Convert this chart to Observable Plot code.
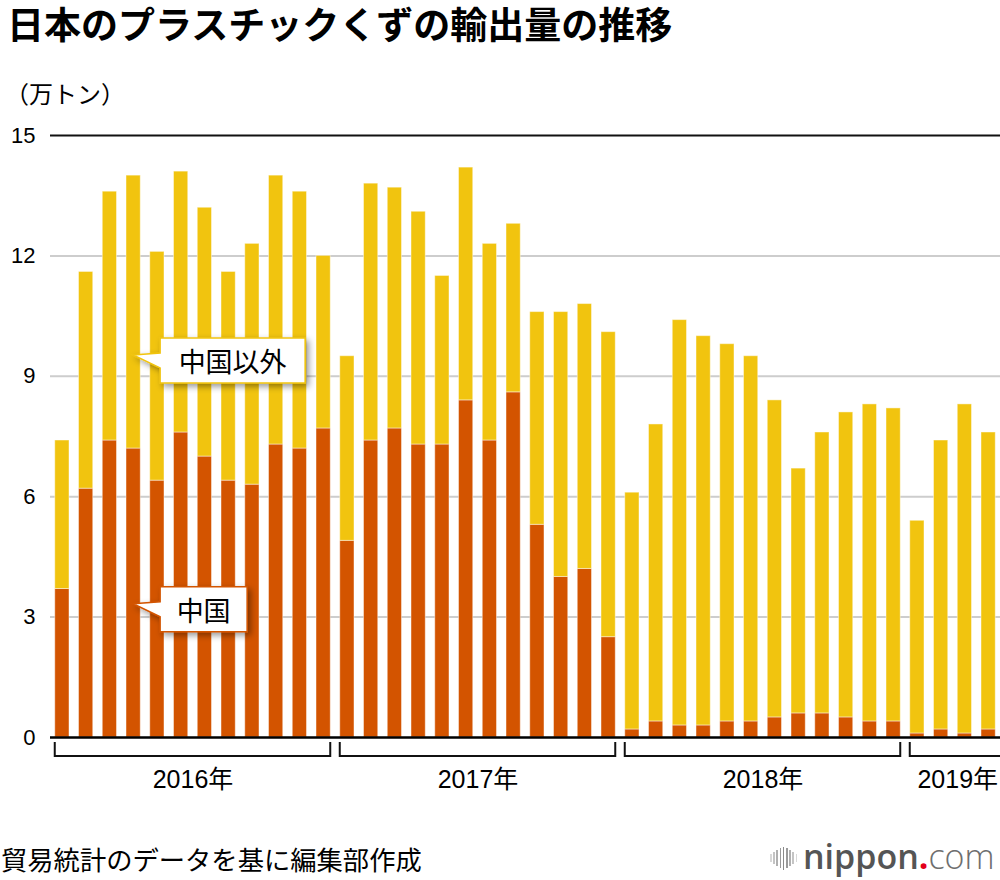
<!DOCTYPE html>
<html>
<head>
<meta charset="utf-8">
<script src="https://cdn.jsdelivr.net/npm/d3@7"></script>
<script src="https://cdn.jsdelivr.net/npm/@observablehq/plot@0.6"></script>
<style>
  body { margin: 0; background: #fff; }
  #wrap { position: relative; width: 1000px; height: 880px; overflow: hidden; background: #fff; }
  .jp { font-family: "Noto Sans CJK JP", "Noto Sans CJK SC", sans-serif; color: #000; white-space: nowrap; }
  #title { position: absolute; left: 7px; top: 3px; font-size: 37px; line-height: 40px; font-weight: 700; }
  #unit { position: absolute; left: 5px; top: 80px; font-size: 24px; line-height: 26px; }
  #chart { position: absolute; left: 0; top: 110px; }
  #caption { position: absolute; left: 1px; top: 845px; font-size: 26.3px; line-height: 28px; }
  #logoicon { position: absolute; left: 770px; top: 846px; height: 24px; display: flex; align-items: center; gap: 1.6px; }
  #logoicon span { display: block; width: 1.6px; }
  #logo { position: absolute; left: 803px; top: 836px; font-family: "Open Sans", "Noto Sans", sans-serif; font-size: 34px; line-height: 40px; white-space: nowrap; }
  #logo .n { color: #555; font-weight: 600; }
  #logo .d { color: #e3001b; font-weight: 700; }
  #logo .c { color: #6e6e6e; font-weight: 300; }
</style>
</head>
<body>
<div id="wrap">
  <div id="title" class="jp">日本のプラスチックくずの輸出量の推移</div>
  <div id="unit" class="jp">（万トン）</div>
  <div id="chart"></div>
  <div id="caption" class="jp">貿易統計のデータを基に編集部作成</div>
  <div id="logoicon"></div>
  <div id="logo"><span class="n">nippon</span><span class="d">.</span><span class="c">com</span></div>
</div>
<script>
// ---- data (万トン) ----
const years = ["2016", "2017", "2018", "2019"];
const monthsPerYear = [12, 12, 12, 4];
const china = [
  3.7, 6.2, 7.4, 7.2, 6.4, 7.6, 7.0, 6.4, 6.3, 7.3, 7.2, 7.7,
  4.9, 7.4, 7.7, 7.3, 7.3, 8.4, 7.4, 8.6, 5.3, 4.0, 4.2, 2.5,
  0.2, 0.4, 0.3, 0.3, 0.4, 0.4, 0.5, 0.6, 0.6, 0.5, 0.4, 0.4,
  0.1, 0.2, 0.1, 0.2
];
const others = [
  3.7, 5.4, 6.2, 6.8, 5.7, 6.5, 6.2, 5.2, 6.0, 6.7, 6.4, 4.3,
  4.6, 6.4, 6.0, 5.8, 4.2, 5.8, 4.9, 4.2, 5.3, 6.6, 6.6, 7.6,
  5.9, 7.4, 10.1, 9.7, 9.4, 9.1, 7.9, 6.1, 7.0, 7.6, 7.9, 7.8,
  5.3, 7.2, 8.2, 7.4
];
const yTicks = [0, 3, 6, 9, 12, 15];
const seriesNames = ["中国", "中国以外"];
const yearSuffix = "年";

// ---- derived tables ----
const rows = china.map((c, i) => ({ i, china: c, others: others[i], total: c + others[i] }));
let acc = 0;
const yearGroups = years.map((y, k) => {
  const g = { label: y + yearSuffix, start: acc, end: acc + monthsPerYear[k] - 1, last: k === years.length - 1 };
  acc += monthsPerYear[k];
  return g;
});

const ORANGE = "#D35400";
const YELLOW = "#F1C40F";
const HALF = 0.3; // half bar width in month units

// bracket mark under each year
const bracketMark = (index, scales, values, dims) => {
  const { x, y } = scales;
  const g = d3.create("svg:g").attr("fill", "none").attr("stroke", "#111").attr("stroke-width", 2);
  const y0 = y(0);
  const top = y0 + 5, bot = y0 + 19;
  for (const yg of yearGroups) {
    const a = x(yg.start - HALF);
    const b = yg.last ? dims.width + 5 : x(yg.end + HALF);
    const p = d3.path();
    p.moveTo(a, top); p.lineTo(a, bot); p.lineTo(b, bot);
    if (!yg.last) p.lineTo(b, top);
    g.append("path").attr("d", p.toString());
  }
  return g.node();
};

// callout label mark
const callout = (mi, val, label, color, boxW) => (index, scales) => {
  const { x, y } = scales;
  const tx = x(mi), ty = y(val);
  const g = d3.create("svg:g");
  const fid = "sh" + Math.round(tx) + "_" + Math.round(ty);
  const f = g.append("defs").append("filter").attr("id", fid)
    .attr("x", "-20%").attr("y", "-30%").attr("width", "150%").attr("height", "180%");
  f.append("feDropShadow").attr("dx", 3).attr("dy", 3).attr("stdDeviation", 3)
    .attr("flood-color", "#000").attr("flood-opacity", 0.4);
  const L = tx + 27, R = L + boxW, T = ty - 17, B = ty + 28;
  const d = `M${tx},${ty} L${L},${ty - 2} L${L},${T} L${R},${T} L${R},${B} L${L},${B} L${L},${ty + 13} Z`;
  g.append("path").attr("d", d).attr("fill", "#fff").attr("stroke", color)
    .attr("stroke-width", 1.5).attr("stroke-linejoin", "miter").attr("filter", `url(#${fid})`);
  g.append("text").attr("x", (L + R) / 2).attr("y", (T + B) / 2)
    .attr("text-anchor", "middle").attr("dominant-baseline", "central")
    .attr("font-family", '"Noto Sans CJK JP", sans-serif').attr("font-size", 27)
    .attr("fill", "#000").text(label);
  return g.node();
};

const chart = Plot.plot({
  width: 1000,
  height: 690,
  marginTop: 25,
  marginBottom: 63,
  marginLeft: 50,
  marginRight: 0,
  style: { fontFamily: '"Liberation Sans", Arial, "Noto Sans CJK JP", sans-serif', fontSize: "22px", color: "#000", background: "transparent", overflow: "visible" },
  x: { domain: [-0.5, china.length - 0.5], axis: null },
  y: { domain: [0, 15], ticks: yTicks, tickSize: 0, tickPadding: 15, label: null, tickFormat: d => String(d) },
  marks: [
    Plot.ruleY(yTicks.filter(t => t > 0 && t < 15), { stroke: "#cdcdcd", strokeWidth: 2 }),
    Plot.ruleY([15], { stroke: "#111", strokeWidth: 2 }),
    Plot.rect(rows, { x1: d => d.i - HALF, x2: d => d.i + HALF, y1: 0, y2: "china", fill: ORANGE, stroke: "#fff", strokeOpacity: 0.45, strokeWidth: 1 }),
    Plot.rect(rows, { x1: d => d.i - HALF, x2: d => d.i + HALF, y1: "china", y2: "total", fill: YELLOW, stroke: "#fff", strokeOpacity: 0.45, strokeWidth: 1 }),
    Plot.ruleY([0], { stroke: "#000", strokeWidth: 2.5 }),
    bracketMark,
    Plot.text(yearGroups, {
      x: d => (d.start - HALF + (d.last ? china.length - 0.5 + 0.2 : d.end + HALF)) / 2,
      y: 0, dy: 42, text: "label", fontSize: 25, fill: "#000",
      fontFamily: '"Liberation Sans", Arial, "Noto Sans CJK JP", sans-serif'
    }),
    callout(3, 9.52, seriesNames[1], YELLOW, 145),
    callout(3, 3.32, seriesNames[0], ORANGE, 87)
  ]
});
document.getElementById("chart").appendChild(chart);

// logo icon bars
const icon = document.getElementById("logoicon");
const barH = [8, 12, 16, 20, 23, 20, 16, 12, 8];
const barC = ["#d8d8d8", "#c4c4c4", "#b0b0b0", "#9a9a9a", "#8a8a8a", "#9a9a9a", "#b0b0b0", "#c4c4c4", "#d8d8d8"];
barH.forEach((h, k) => {
  const s = document.createElement("span");
  s.style.height = h + "px";
  s.style.background = barC[k];
  icon.appendChild(s);
});
</script>
</body>
</html>
